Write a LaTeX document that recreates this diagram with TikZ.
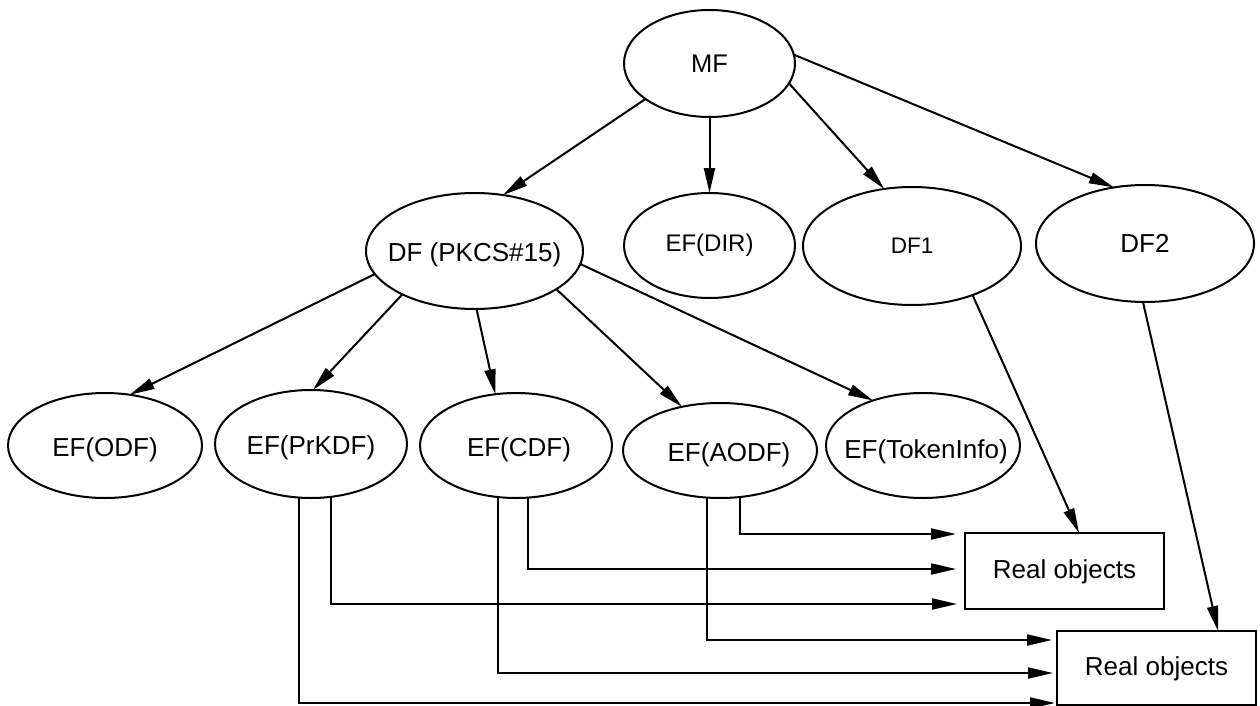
\documentclass[tikz,border=0pt]{standalone}
\usepackage{fontspec}
\setmainfont{Liberation Sans}
\usetikzlibrary{arrows.meta,shapes.geometric}
\newcommand{\ctr}[1]{\makebox[0pt]{#1}}
\begin{document}
\begin{tikzpicture}[x=1pt,y=-1pt,
  ell/.style={ellipse,draw,line width=2pt,inner sep=0pt,outer sep=0pt,
    minimum width=194pt,minimum height=105pt,font=\fontsize{26}{30}\selectfont},
  lowtxt/.style={text height=24pt,text depth=2.4pt},
  rbox/.style={rectangle,draw,line width=2pt,inner sep=0pt,outer sep=0pt,
    minimum width=199pt,font=\fontsize{26}{30}\selectfont,
    text height=20pt,text depth=4.4pt},
  conn/.style={line width=2pt,-{Triangle[length=25pt,width=11pt]}}]
\useasboundingbox (0,0) rectangle (1260,706);

% top level
\node[ell,minimum width=171pt,minimum height=107pt] (MF) at (709.5,63.5)
  {\ctr{\fontsize{25.5}{30}\selectfont MF}};

% second level
\node[ell,lowtxt,minimum width=217pt,minimum height=116pt] (DF) at (474.5,251)
  {\ctr{DF (PKCS\#15)}};
\node[ell,minimum width=171pt,minimum height=105pt] (DIR) at (709.5,245.5)
  {\ctr{\fontsize{24}{28}\selectfont EF(DIR)}};
\node[ell,minimum width=218pt,minimum height=118pt] (DF1) at (912,246)
  {\ctr{\fontsize{22.5}{27}\selectfont DF1}};
\node[ell,minimum width=218pt,minimum height=117pt] (DF2) at (1145,243.5)
  {\ctr{DF2}};

% elementary files of the PKCS#15 application
\node[ell,lowtxt] (ODF) at (105,445.5) {\ctr{EF(ODF)}};
\node[ell,lowtxt,minimum width=192pt,minimum height=108pt] (PrKDF) at (311,444) {\ctr{EF(PrKDF)}};
\node[ell,lowtxt,minimum width=192pt] (CDF) at (516,445.5) {\ctr{\hspace{6pt}EF(CDF)}};
\node[ell,lowtxt,minimum height=95pt] (AODF) at (720,450.5) {\ctr{\hspace{18pt}EF(AODF)}};
\node[ell,text height=26pt,text depth=0pt] (TI) at (923,445.5) {\ctr{\hspace{6pt}EF(TokenInfo)}};

% object stores
\node[rbox,minimum height=76pt] (B1) at (1064.5,571) {Real objects};
\node[rbox,minimum height=74pt] (B2) at (1156.5,668) {Real objects};

% tree connectors
\draw[conn] (MF.209.5) -- (DF.63);
\draw[conn] (MF.south) -- (DIR.north);
\draw[conn] (MF.-14.3) -- (DF1.116.6);
\draw[conn] (MF.6.8) -- (DF2.119.9);

\draw[conn] (DF.193.3) -- (ODF.64.5);
\draw[conn] (DF.211.7) -- (PrKDF.88);
\draw[conn] (DF.-88.5) -- (CDF.112);
\draw[conn] (DF.-25.3) -- (AODF.131.3);
\draw[conn] (DF.-7.9) -- (TI.138.1);

\draw[conn] (DF1.-39.9) -- (B1.69.1);
\draw[conn] (DF2.-92) -- (B2.31.4);

% references from the directory files to the objects
\draw[conn,shorten >=9pt] (AODF.-67.8) |- ([yshift=37pt]B1.west);
\draw[conn,shorten >=9pt] (CDF.-77) |- ([yshift=2pt]B1.west);
\draw[conn,shorten >=8pt] (PrKDF.-69.3) |- ([yshift=-33pt]B1.west);
\draw[conn,shorten >=5pt] (AODF.-105.4) |- ([yshift=28pt]B2.west);
\draw[conn,shorten >=4pt] (CDF.-109.2) |- ([yshift=-5pt]B2.west);
\draw[conn,shorten >=2pt] (PrKDF.-103.7) |- ([yshift=-35pt]B2.west);
\end{tikzpicture}
\end{document}
